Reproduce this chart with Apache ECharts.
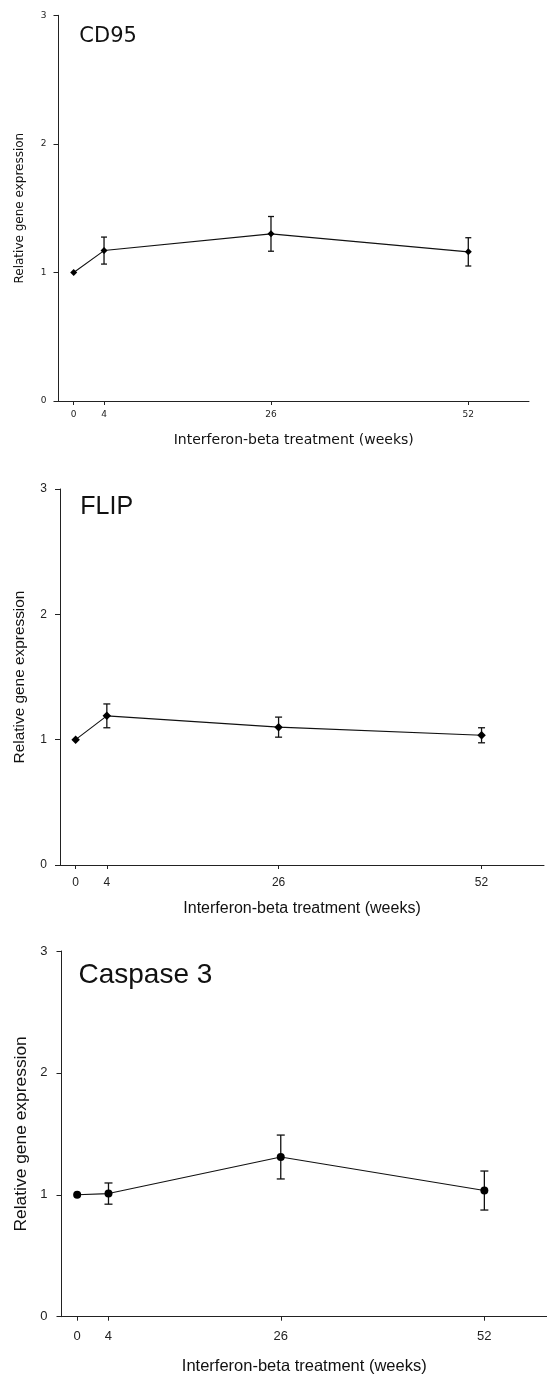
<!DOCTYPE html>
<html>
<head>
<meta charset="utf-8">
<script src="https://cdn.jsdelivr.net/npm/echarts@6/dist/echarts.min.js"></script>
<style>
html,body{margin:0;padding:0;background:#fff;}
#chart{width:547px;height:1378px;}
</style>
</head>
<body>
<div id="chart"></div>
<script>
// ---- data ----
const weeks = [0, 4, 26, 52];
const xTickValues = [0, 4, 26, 52];
const panelTitles = ['CD95', 'FLIP', 'Caspase 3'];
const xAxisTitle = 'Interferon-beta treatment (weeks)';
const yAxisTitle = 'Relative gene expression';

const cd95Mean = [1.00, 1.17, 1.30, 1.16];
const cd95Err  = [0, 0.105, 0.135, 0.11];
const flipMean = [1.00, 1.19, 1.10, 1.035];
const flipErr  = [0, 0.095, 0.08, 0.06];
const casp3Mean = [1.00, 1.01, 1.31, 1.035];
const casp3Err  = [0, 0.087, 0.18, 0.16];

// ---- styling per panel ----
const panels = [
  { mean: cd95Mean, err: cd95Err, grid: {left: 58.5, top: 15.3, width: 470.5, height: 385.7},
    font: 'DejaVu Sans', tickFont: 9, nameFontX: 14, nameFontY: 12, xGap: 32, yGap: 33,
    labelMarginX: 9, labelMarginY: 12, symbol: 'diamond', symbolSize: 7, cap: 3,
    title: {x: 79.3, y: 37, size: 21, font: 'DejaVu Sans'} },
  { mean: flipMean, err: flipErr, grid: {left: 60, top: 489, width: 484, height: 376},
    font: 'Liberation Sans', tickFont: 12, nameFontX: 16, nameFontY: 15.4, xGap: 36, yGap: 33,
    labelMarginX: 12, labelMarginY: 13, symbol: 'diamond', symbolSize: 8.5, cap: 3.5,
    title: {x: 80.3, y: 507, size: 25, font: 'Liberation Sans'} },
  { mean: casp3Mean, err: casp3Err, grid: {left: 61.5, top: 951, width: 497, height: 365.7},
    font: 'Liberation Sans', tickFont: 13, nameFontX: 16.5, nameFontY: 17.4, xGap: 41, yGap: 32,
    labelMarginX: 13, labelMarginY: 14, symbol: 'circle', symbolSize: 8, cap: 4,
    title: {x: 78.5, y: 975, size: 28, font: 'Liberation Sans'} }
];

const axisColor = '#222';
const grids = [], xAxes = [], yAxes = [], series = [], graphics = [];

panels.forEach((p, i) => {
  grids.push(Object.assign({containLabel: false}, p.grid));
  xAxes.push({
    type: 'value', gridIndex: i, min: -2, max: 60,
    name: xAxisTitle, nameLocation: 'middle', nameGap: p.xGap,
    nameTextStyle: {fontFamily: p.font, fontSize: p.nameFontX, color: '#111'},
    axisLine: {show: true, onZero: false, lineStyle: {color: axisColor, width: 1}},
    axisTick: {show: true, length: 4, customValues: xTickValues, lineStyle: {color: axisColor}},
    axisLabel: {customValues: xTickValues, fontFamily: p.font, fontSize: p.tickFont, color: '#222', margin: p.labelMarginX},
    splitLine: {show: false}
  });
  yAxes.push({
    type: 'value', gridIndex: i, min: 0, max: 3, interval: 1,
    name: yAxisTitle, nameLocation: 'middle', nameGap: p.yGap,
    nameTextStyle: {fontFamily: p.font, fontSize: p.nameFontY, color: '#111'},
    axisLine: {show: true, onZero: false, lineStyle: {color: axisColor, width: 1}},
    axisTick: {show: true, length: 5, lineStyle: {color: axisColor}},
    axisLabel: {fontFamily: p.font, fontSize: p.tickFont, color: '#222', margin: p.labelMarginY},
    splitLine: {show: false}
  });
  const errData = [];
  weeks.forEach((w, k) => {
    if (p.err[k] > 0) errData.push([w, p.mean[k] - p.err[k], p.mean[k] + p.err[k]]);
  });
  const cap = p.cap;
  series.push({
    type: 'custom', xAxisIndex: i, yAxisIndex: i, data: errData,
    encode: {x: 0, y: [1, 2]}, silent: true, z: 2,
    renderItem: function (params, api) {
      const x = api.value(0);
      const lo = api.coord([x, api.value(1)]);
      const hi = api.coord([x, api.value(2)]);
      const st = {stroke: '#111', lineWidth: 1.3};
      return {type: 'group', children: [
        {type: 'line', shape: {x1: lo[0], y1: lo[1], x2: hi[0], y2: hi[1]}, style: st},
        {type: 'line', shape: {x1: lo[0] - cap, y1: lo[1], x2: lo[0] + cap, y2: lo[1]}, style: st},
        {type: 'line', shape: {x1: hi[0] - cap, y1: hi[1], x2: hi[0] + cap, y2: hi[1]}, style: st}
      ]};
    }
  });
  series.push({
    type: 'line', xAxisIndex: i, yAxisIndex: i, z: 3,
    data: weeks.map((w, k) => [w, p.mean[k]]),
    symbol: p.symbol, symbolSize: p.symbolSize, showSymbol: true,
    lineStyle: {color: '#111', width: 1.1},
    itemStyle: {color: '#000', borderWidth: 0},
    animation: false
  });
  graphics.push({
    type: 'text', x: p.title.x, y: p.title.y,
    style: {text: panelTitles[i], font: p.title.size + 'px "' + p.title.font + '"', fill: '#111', align: 'left', verticalAlign: 'middle'}
  });
});

const chart = echarts.init(document.getElementById('chart'), null, {renderer: 'canvas'});
chart.setOption({
  animation: false,
  backgroundColor: '#fff',
  grid: grids, xAxis: xAxes, yAxis: yAxes, series: series,
  graphic: graphics
});
</script>
</body>
</html>
